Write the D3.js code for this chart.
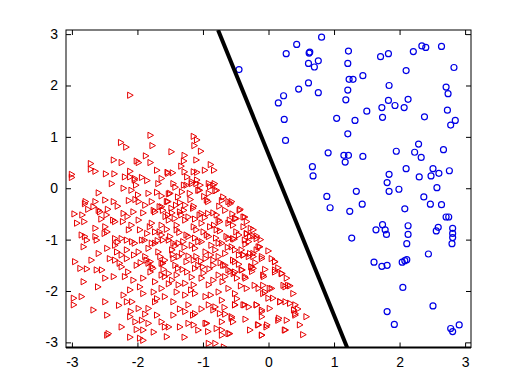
<!DOCTYPE html>
<html>
<head>
<meta charset="utf-8">
<script src="https://cdn.jsdelivr.net/npm/d3@7"></script>
<style>
  body { margin: 0; background: #fff; }
  text { font-family: "Liberation Sans", Arial, sans-serif; fill: #000; }
</style>
</head>
<body>
<div id="chart"></div>
<script>
// class 2: blue circles
var blueX = [-0.45,0.43,0.81,0.27,0.62,0.63,1.22,0.61,0.76,0.70,1.21,1.71,1.83,2.21,2.34,2.40,2.64,2.83,2.10,1.44,
  1.23,1.29,0.61,0.46,0.76,1.21,1.84,2.71,2.74,0.23,0.15,1.18,1.83,2.13,1.93,1.73,2.07,1.50,2.73,0.24,
  1.04,1.32,1.74,2.38,2.85,2.78,1.21,0.26,0.91,1.15,1.22,1.17,1.44,1.95,2.23,2.29,2.33,2.67,0.67,0.68,
  1.84,2.10,2.30,2.48,2.51,2.60,2.76,1.81,1.84,1.99,1.34,2.57,0.89,0.94,1.43,1.24,2.08,2.37,2.47,2.64,
  2.71,2.75,1.74,1.64,1.78,2.13,2.13,1.80,2.59,2.56,2.81,2.81,1.27,2.81,2.80,2.11,2.44,1.61,1.73,1.81,
  2.04,2.08,2.11,2.05,2.51,1.81,1.92,2.78,2.81,2.91];
var blueY = [2.31,2.80,2.94,2.62,2.63,2.65,2.67,2.43,2.48,2.36,2.43,2.56,2.62,2.66,2.77,2.74,2.76,2.35,2.29,2.19,
  2.12,2.12,2.05,1.93,1.86,1.91,2.00,1.97,1.84,1.80,1.66,1.72,1.71,1.73,1.61,1.57,1.57,1.50,1.52,1.34,
  1.36,1.32,1.38,1.39,1.32,1.23,1.06,0.93,0.69,0.64,0.64,0.51,0.62,0.72,0.70,0.86,0.60,0.75,0.42,0.24,
  0.27,0.38,0.22,0.24,0.38,0.29,0.34,0.11,-0.06,-0.02,-0.06,0.01,-0.16,-0.38,-0.31,-0.45,-0.40,-0.17,-0.31,-0.32,
  -0.56,-0.56,-0.71,-0.81,-0.81,-0.73,-0.90,-0.90,-0.76,-0.83,-0.78,-0.88,-0.97,-0.96,-1.08,-1.08,-1.28,-1.44,-1.52,-1.50,
  -1.44,-1.41,-1.39,-1.93,-2.29,-2.40,-2.65,-2.73,-2.79,-2.66];

// class 1: red triangles
var redX = [-2.11,-1.80,-1.14,-1.09,-2.25,-2.17,-1.77,-1.13,-1.03,-1.48,-1.87,-1.28,-2.36,-2.24,-2.01,-1.98,-1.80,-1.29,-1.10,-1.33,
  -0.88,-2.71,-2.71,-2.64,-2.11,-1.70,-1.54,-1.46,-1.28,-1.14,-1.09,-0.97,-0.83,-3.00,-2.48,-2.35,
  -3.00,-2.39,-2.19,-2.04,-1.93,-2.02,-1.85,-1.24,-1.17,-1.09,-1.04,-0.91,-0.84,-0.81,-1.07,-1.29,-1.32,-0.91,-2.59,-2.21,
  -1.83,-1.63,-1.52,-2.03,-2.36,-2.79,-2.64,-2.49,-2.13,-1.98,-1.78,-1.53,-1.35,-1.14,-0.92,-0.71,-0.58,-2.75,-2.59,-2.45,
  -2.21,-2.06,-1.91,-1.75,-1.63,-1.47,-1.29,-1.02,-0.84,-0.66,-0.43,-2.96,-2.84,-2.92,-2.81,-2.64,-2.49,-2.34,-2.46,-2.13,
  -1.98,-1.78,-1.73,-1.63,-1.52,-1.40,-1.27,-1.14,-1.02,-0.89,-0.76,-0.61,-0.51,-0.38,-2.85,-2.77,-2.64,-2.82,-2.46,-2.34,
  -2.24,-2.08,-1.93,-1.78,-1.63,-1.52,-1.37,-1.22,-1.07,-0.91,-0.76,-0.61,-0.45,-0.33,-0.23,-0.30,-0.15,-2.59,-2.31,-2.16,
  -1.98,-1.83,-1.68,-1.47,-1.32,-1.12,-0.96,-0.81,-0.66,-0.51,-0.38,-0.23,-0.10,0.05,
  -2.95,-2.87,-2.77,-2.82,-2.62,-2.54,-2.49,-2.36,-2.34,-2.24,-2.19,-2.06,-1.91,-1.83,-1.63,-1.52,-1.40,-1.24,-1.27,-1.12,
  -0.91,-0.76,-0.61,-0.48,-0.35,-0.23,-0.07,0.10,0.21,0.10,0.26,0.33,-0.15,-0.33,-0.05,0.05,-2.97,-2.85,-2.97,-2.67,
  -2.49,-2.46,-2.24,-2.11,-1.98,-2.03,-1.93,-1.83,-1.70,-1.83,-1.63,-1.52,-1.58,-1.45,-1.22,-1.27,-1.12,-0.91,-0.81,-1.14,
  -0.96,-0.79,-0.71,-0.56,-0.51,-0.38,-0.30,-0.18,-0.10,-0.10,-0.15,-0.02,-0.10,0.16,0.26,0.39,0.41,0.26,0.18,0.00,
  -0.71,-0.61,-0.91,-0.81,-0.68,-2.44,-2.46,-1.96,-1.91,-1.55,-1.91,
  -2.11,-2.16,-2.01,-1.58,-1.45,-1.35,-1.22,-1.15,-1.07,-0.94,-0.92,-0.71,-0.54,-0.84,-0.74,
  -0.54,-0.36,-0.18,-0.13,-0.38,-0.23,-0.10,0.10,0.20,0.10,-0.08,-0.26,-0.51,-0.36,-0.21,-0.08,0.02,0.23,0.30,-0.08,
  0.07,0.18,0.33,0.41,-0.51,-0.36,-0.18,-0.10,0.02,0.41,0.58,-0.56,-0.28,-0.16,-0.03,0.15,0.28,0.48,0.53,0.25,
  -0.10,-0.59,-0.56,-0.44,-0.49,-0.36,-0.54,-0.38,-0.33,-0.18,-0.28,
  -2.11,-2.04,-2.09,-1.99,-1.68,-1.63,-1.53,-1.45,-1.50,-1.38,-1.25,-1.17,-1.10,-1.05,-0.89,-0.79,-0.82,-0.69,-0.61,-0.94,
  -1.27,-1.15,-1.55,-1.66,-1.73,-1.61,-1.48,-1.53,-1.43,-1.35,-1.22,-1.05,-0.92,-0.79,-0.74,-0.59,-0.33,-0.23,-0.49,-0.64,
  -0.79,-0.94,-1.10,-1.25,-1.40,-1.50,-1.66,-1.81,-1.96,-2.09,-2.22,-2.37,-2.47,-2.57,-2.67,-2.80,-2.80,-2.62,-2.50,-2.34,
  -2.16,-2.04,-1.89,-1.73,-1.61,-1.45,-1.30,-1.17,-1.02,-0.87,-0.71,-0.56,-0.41,-0.28,-0.18,-2.42,-2.27,-2.14,-2.01,-1.86,
  -1.76,-1.61,-1.45,-1.38,-1.25,-1.10,-1.00,-0.84,-0.69,-0.54,-0.41,-0.26,
  -2.24,-2.16,-1.88,-1.80,-1.78,-1.58,-1.42,-1.37,-1.14,-1.07,-0.96,-0.84,-0.76,-0.66,-0.51,-0.30,-0.40,-0.53,-0.66,-0.84,
  -1.02,-1.14,-1.37,-1.47,-1.63,-1.73,-1.96,-2.11,-1.91,-1.75,-1.63,-1.40,-1.27,-1.12,-0.96,-0.76,-0.61,-0.51,-0.71,-1.73,
  -2.08,-2.21,
  -1.57,-1.41,-1.19,-0.97,-0.74,-0.52,-1.36,-1.12,-0.88,-1.46,-1.69,-1.85,-1.22,-1.03,-0.73,-0.45,-0.62,-0.35,-1.31,-1.58,
  -0.99,-0.70,-0.42,-1.18,-0.88,-1.52,-1.80,-1.95,-2.05,-2.30,-2.15,-1.88,-1.70,-1.42,-1.20,-0.98,-0.75,-0.55,-0.27,-0.12,
  0.00,0.15,0.28,0.38,0.45,-0.25,-0.48,-0.67,-1.02,-1.35,-1.70,-1.88,-2.28,-2.60,-2.70,-2.55,-2.30,-1.60,-1.12,-0.83,
  -1.33,-0.99,-1.28,-0.80,-0.58,-0.90,-1.17,-1.42,-1.65,-1.55,-0.45,-0.20,-0.05,-0.66,-0.35,-1.28,-1.75,-2.10];
var redY = [1.81,1.03,1.01,0.94,0.89,0.80,0.83,0.83,0.72,0.71,0.63,0.64,0.55,0.50,0.53,0.50,0.50,0.53,0.55,0.43,
  0.46,0.48,0.37,0.33,0.33,0.35,0.31,0.30,0.32,0.32,0.31,0.35,0.35,0.27,0.28,0.28,
  0.21,0.09,0.22,0.19,0.21,0.06,0.15,0.22,0.09,0.16,0.06,0.09,0.06,-0.05,-0.04,0.06,-0.07,-0.10,-0.09,0.00,
  -0.10,-0.15,-0.11,-0.22,-0.26,-0.26,-0.26,-0.23,-0.24,-0.26,-0.26,-0.26,-0.28,-0.35,-0.26,-0.24,-0.30,-0.41,-0.43,-0.41,
  -0.49,-0.46,-0.48,-0.43,-0.36,-0.48,-0.43,-0.49,-0.48,-0.43,-0.41,-0.50,-0.52,-0.68,-0.65,-0.78,-0.75,-0.65,-0.85,-0.81,
  -0.62,-0.68,-0.85,-0.72,-0.62,-0.72,-0.62,-0.75,-0.68,-0.75,-0.62,-0.68,-0.59,-0.56,-0.91,-1.01,-0.94,-1.14,-1.17,-1.11,
  -0.98,-1.04,-1.01,-1.07,-0.91,-1.01,-1.07,-0.94,-1.04,-0.94,-1.07,-0.98,-0.91,-0.89,-0.93,-1.04,-1.14,-1.27,-1.24,-1.20,
  -1.24,-1.17,-1.24,-1.20,-1.27,-1.17,-1.24,-1.20,-1.27,-1.20,-1.30,-1.27,-1.33,-1.37,
  -1.43,-1.56,-1.57,-1.82,-1.59,-1.59,-1.75,-1.72,-1.40,-1.53,-1.72,-1.79,-1.75,-1.46,-1.46,-1.66,-1.69,-1.63,-1.85,-1.56,
  -1.88,-1.69,-1.59,-1.75,-1.75,-1.56,-1.72,-1.43,-1.66,-1.63,-1.92,-1.90,-1.95,-1.95,-2.02,-1.95,-2.14,-2.11,-2.27,-2.37,
  -2.21,-2.47,-2.70,-2.50,-2.34,-2.60,-2.57,-2.34,-2.47,-2.63,-2.60,-2.70,-2.11,-2.21,-2.27,-2.40,-2.44,-2.27,-2.31,-2.66,
  -2.63,-2.73,-2.60,-2.50,-2.27,-2.27,-2.31,-2.27,-2.37,-2.50,-2.66,-2.66,-2.86,-2.53,-2.76,-2.37,-2.47,-2.21,-2.21,-2.14,
  -2.76,-2.83,-3.02,-3.02,-3.09,-2.83,-2.86,-2.92,-2.96,-2.89,-2.76,
  -2.90,-2.21,-2.75,-2.70,-2.47,-2.70,-2.63,-2.47,-2.76,-2.63,-2.79,-2.86,-2.60,-2.37,-2.44,
  -0.98,-1.01,-0.98,-1.14,-1.30,-1.33,-1.37,-1.43,-1.66,-1.59,-1.69,-1.53,-1.63,-1.72,-1.89,-1.89,-1.95,-1.89,-1.89,-2.05,
  -2.14,-2.21,-2.24,-2.27,-2.27,-2.27,-2.27,-2.40,-2.34,-2.44,-2.50,-2.53,-2.76,-2.66,-2.70,-2.57,-2.57,-2.66,-2.85,-2.76,
  -2.86,-2.83,-0.26,-0.43,-0.59,-0.56,-0.72,-0.75,-0.88,-0.93,-0.94,
  0.22,0.16,-0.04,-0.13,0.09,0.19,0.29,0.09,-0.10,-0.17,0.06,0.13,0.09,-0.04,0.03,-0.04,0.09,-0.17,-0.26,-0.23,
  -0.33,-0.39,-0.26,-0.36,-0.46,-0.43,-0.39,-0.52,-0.59,-0.46,-0.56,-0.52,-0.49,-0.52,-0.65,-0.62,-0.65,-0.81,-0.85,-0.94,
  -0.81,-0.91,-0.81,-0.91,-0.81,-0.94,-0.85,-0.75,-0.81,-0.72,-0.65,-0.62,-0.52,-0.46,-0.36,-0.30,-0.94,-1.01,-0.88,-0.98,
  -1.01,-1.07,-1.01,-1.07,-1.01,-1.07,-1.04,-1.11,-1.04,-1.11,-1.07,-1.14,-1.20,-1.27,-1.20,-1.37,-1.46,-1.63,-1.50,-1.40,
  -1.56,-1.46,-1.37,-1.56,-1.43,-1.33,-1.53,-1.40,-1.50,-1.40,-1.59,-1.53,
  -1.30,-1.37,-1.33,-1.43,-1.53,-1.40,-1.50,-1.33,-1.40,-1.50,-1.37,-1.50,-1.33,-1.50,-1.43,-1.33,-1.59,-1.66,-1.72,-1.79,
  -1.75,-1.88,-1.88,-1.79,-1.69,-1.82,-1.92,-1.98,-2.05,-2.02,-1.95,-2.02,-2.08,-2.05,-2.11,-2.02,-1.95,-2.05,-2.18,-2.21,
  -2.21,-2.08,
  -0.55,-0.33,-0.22,-0.57,-0.83,-0.99,-0.86,-0.97,-1.30,-1.29,-1.02,-0.88,-1.32,-1.42,-1.45,-1.48,-1.15,-1.09,-1.58,-1.72,
  -1.65,-1.82,-1.90,-1.98,-2.08,-1.86,-1.63,-1.45,-1.30,-1.05,-0.55,-0.33,-0.08,0.02,-0.10,-0.16,-0.35,-0.50,-0.78,-1.00,
  -1.22,-1.55,-1.75,-2.05,-2.35,-1.62,-2.15,-2.32,-2.35,-2.35,-2.15,-2.45,-2.28,-1.92,-1.40,-0.60,-0.35,-1.58,-0.60,-0.72,
  -0.52,-0.85,-1.15,-0.97,-1.62,-1.57,-1.73,-1.12,-1.33,-0.80,-1.30,-1.45,-1.58,-2.45,-2.55,-2.90,-2.80,-2.40];

// separating line, two points on it
var lineX = [-0.77, 1.20];
var lineY = [3.08, -3.10];

var xTicks = [-3, -2, -1, 0, 1, 2, 3];
var yTicks = [-3, -2, -1, 0, 1, 2, 3];

var W = 525, H = 388;
var pLeft = 66, pRight = 471, pTop = 30, pBottom = 347.5;

var x = d3.scaleLinear().domain([-3.09, 3.09]).range([pLeft, pRight]);
var y = d3.scaleLinear().domain([-3.10, 3.08]).range([pBottom, pTop]);

var svg = d3.select("#chart").append("svg")
  .attr("width", W).attr("height", H);

svg.append("defs").append("clipPath").attr("id", "clip")
  .append("rect").attr("x", pLeft).attr("y", pTop)
  .attr("width", pRight - pLeft).attr("height", pBottom - pTop);

var plot = svg.append("g").attr("clip-path", "url(#clip)");

// red triangles (right pointing)
plot.append("g").selectAll("path")
  .data(d3.range(redX.length))
  .enter().append("path")
  .attr("d", "M-2.6,-3.1L3,0L-2.6,3.1Z")
  .attr("transform", function(i) { return "translate(" + x(redX[i]) + "," + y(redY[i]) + ")"; })
  .attr("fill", "none")
  .attr("stroke", "#e60000")
  .attr("stroke-width", 1);

// blue circles
plot.append("g").selectAll("circle")
  .data(d3.range(blueX.length))
  .enter().append("circle")
  .attr("cx", function(i) { return x(blueX[i]); })
  .attr("cy", function(i) { return y(blueY[i]); })
  .attr("r", 3)
  .attr("fill", "none")
  .attr("stroke", "#0000e6")
  .attr("stroke-width", 1.2);

// boundary
plot.append("line")
  .attr("x1", x(lineX[0])).attr("y1", y(lineY[0]))
  .attr("x2", x(lineX[1])).attr("y2", y(lineY[1]))
  .attr("stroke", "#000")
  .attr("stroke-width", 4);

// axes, ticks inside on all four sides
var fmt = function(d) { return String(d).replace("\u2212", "-"); };
var xb = svg.append("g").attr("transform", "translate(0," + pBottom + ")")
  .call(d3.axisBottom(x).tickValues(xTicks).tickSizeInner(-5).tickSizeOuter(0).tickPadding(10).tickFormat(fmt));
svg.append("g").attr("transform", "translate(0," + pTop + ")")
  .call(d3.axisTop(x).tickValues(xTicks).tickSizeInner(-5).tickSizeOuter(0).tickFormat(""));
var yl = svg.append("g").attr("transform", "translate(" + pLeft + ",0)")
  .call(d3.axisLeft(y).tickValues(yTicks).tickSizeInner(-5).tickSizeOuter(0).tickPadding(8).tickFormat(fmt));
svg.append("g").attr("transform", "translate(" + pRight + ",0)")
  .call(d3.axisRight(y).tickValues(yTicks).tickSizeInner(-5).tickSizeOuter(0).tickFormat(""));

svg.selectAll(".domain").remove();
svg.selectAll(".tick line").attr("stroke", "#000").attr("stroke-width", 1);
svg.selectAll(".tick text").attr("font-size", 14).attr("font-family", "Liberation Sans, Arial, sans-serif");

svg.append("rect")
  .attr("x", pLeft).attr("y", pTop)
  .attr("width", pRight - pLeft).attr("height", pBottom - pTop)
  .attr("fill", "none").attr("stroke", "#000").attr("stroke-width", 1);
svg.append("line")
  .attr("x1", pLeft).attr("x2", pRight).attr("y1", pBottom).attr("y2", pBottom)
  .attr("stroke", "#000").attr("stroke-width", 2);
</script>
</body>
</html>
